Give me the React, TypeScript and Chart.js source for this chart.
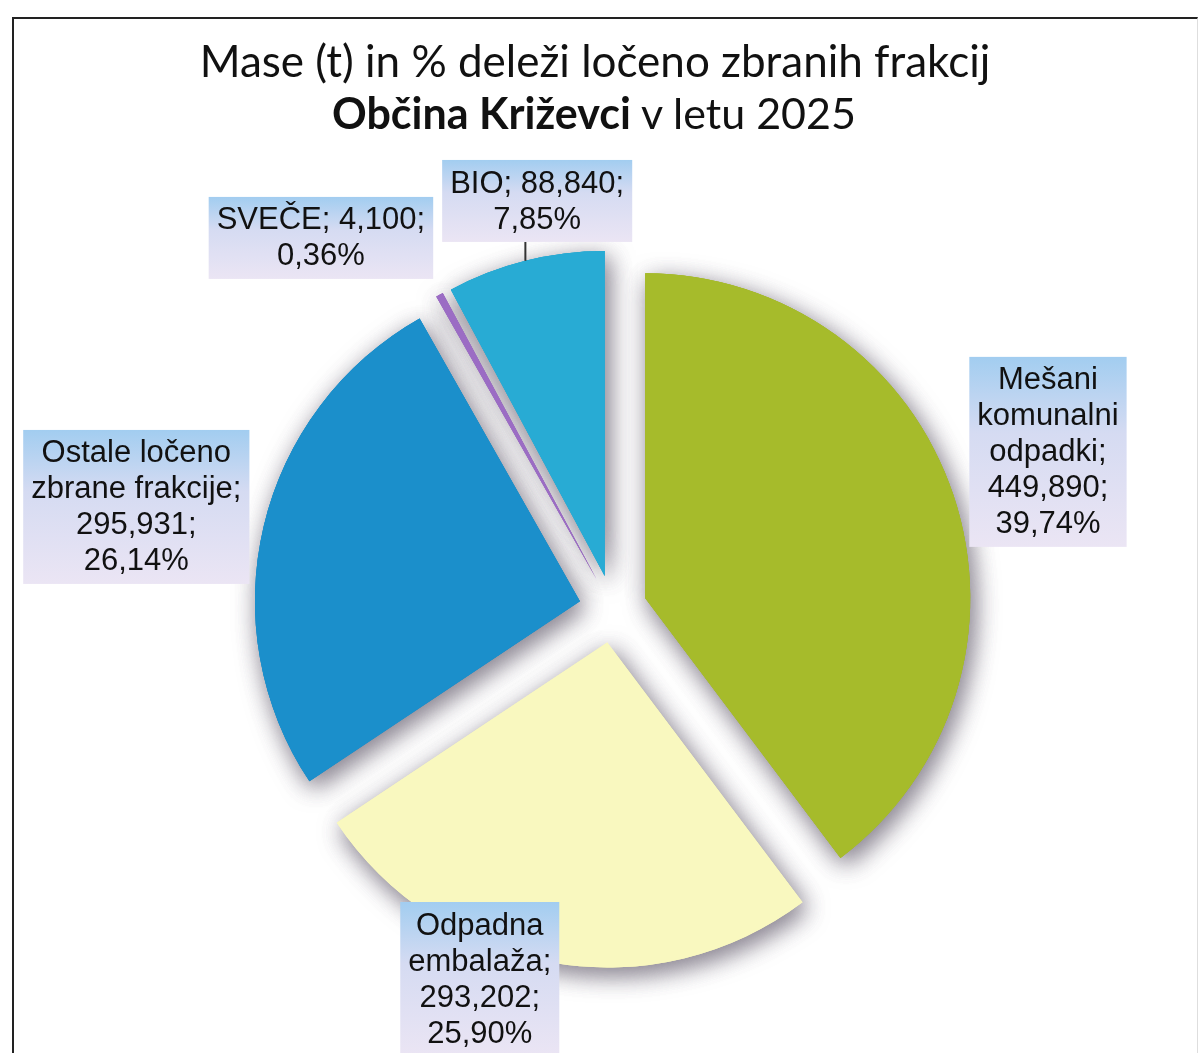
import React, { useEffect, useRef } from 'react';
import { Chart, registerables } from 'chart.js';

Chart.register(...registerables);

// ---- data ----
const CATEGORIES = [
  'Mešani komunalni odpadki',
  'Odpadna embalaža',
  'Ostale ločeno zbrane frakcije',
  'SVEČE',
  'BIO',
];
const MASSES = [449.89, 293.202, 295.931, 4.1, 88.84];
const COLORS = ['#a6bb2b', '#f9f8bf', '#1b8fcb', '#9b6cc4', '#28abd4'];

const TITLE_LINE_1 = 'Mase (t) in % deleži ločeno zbranih frakcij';
const TITLE_BOLD = 'Občina Križevci';
const TITLE_REST = ' v letu 2025';

// ---- label layout (polar position relative to the pie) ----
const LABEL_RADIUS = [1.423, 1.21, 1.5, 1.453, 1.277];
const LABEL_ANGLE_SHIFT = [-1.4, 10.1, -1.3, -9.3, 3.6];
const LABEL_WRAP = [165, 155, 222, 232, 200];
const LABEL_LEADER = [false, false, false, false, true];

const EXPLODE = 34;
const FONT = '31px Arial, "Liberation Sans", sans-serif';
const LINE_H = 36;

const fmt = (v: number, d: number) => v.toFixed(d).replace('.', ',');

function wrapText(ctx: CanvasRenderingContext2D, text: string, maxW: number): string[] {
  const words = text.split(' ');
  const lines: string[] = [];
  let cur = '';
  for (const w of words) {
    const t = cur ? cur + ' ' + w : w;
    if (cur && ctx.measureText(t).width > maxW) {
      lines.push(cur);
      cur = w;
    } else cur = t;
  }
  if (cur) lines.push(cur);
  return lines;
}

const explodedPie = {
  id: 'explodedPie',
  beforeDatasetDraw(chart: any, args: any) {
    const ctx: CanvasRenderingContext2D = chart.ctx;
    const arcs = args.meta.data;
    const drawAll = () => {
      arcs.forEach((a: any) => {
        const mid = (a.startAngle + a.endAngle) / 2;
        ctx.save();
        ctx.translate(Math.cos(mid) * EXPLODE, Math.sin(mid) * EXPLODE);
        a.draw(ctx);
        ctx.restore();
      });
    };
    // soft grey drop shadow (two passes for density), then clean slices on top
    for (let p = 0; p < 2; p++) {
      ctx.save();
      ctx.shadowColor = 'rgba(120, 113, 128, 0.62)';
      ctx.shadowBlur = 24;
      ctx.shadowOffsetX = 4;
      ctx.shadowOffsetY = 7;
      drawAll();
      ctx.restore();
    }
    drawAll();
    return false;
  },
  afterDatasetsDraw(chart: any) {
    const ctx: CanvasRenderingContext2D = chart.ctx;
    const meta = chart.getDatasetMeta(0);
    const data: number[] = chart.data.datasets[0].data;
    const total = data.reduce((s, v) => s + v, 0);
    ctx.save();
    ctx.font = FONT;
    ctx.textAlign = 'center';
    ctx.textBaseline = 'middle';
    meta.data.forEach((a: any, i: number) => {
      const mid = (a.startAngle + a.endAngle) / 2;
      const ang = mid + (LABEL_ANGLE_SHIFT[i] * Math.PI) / 180;
      const R = a.outerRadius;
      const px = a.x + Math.cos(ang) * LABEL_RADIUS[i] * R;
      const py = a.y + Math.sin(ang) * LABEL_RADIUS[i] * R;
      const text = `${chart.data.labels[i]}; ${fmt(data[i], 3)}; ${fmt((data[i] / total) * 100, 2)}%`;
      const lines = wrapText(ctx, text, LABEL_WRAP[i]);
      const w = Math.max(...lines.map((l) => ctx.measureText(l).width)) + 16;
      const h = lines.length * LINE_H + 10;
      const x0 = px - w / 2;
      const y0 = py - h / 2;
      if (LABEL_LEADER[i]) {
        const ax = a.x + Math.cos(mid) * (R + EXPLODE);
        const ay = a.y + Math.sin(mid) * (R + EXPLODE);
        ctx.strokeStyle = '#333';
        ctx.lineWidth = 2;
        ctx.beginPath();
        ctx.moveTo(ax, ay);
        ctx.lineTo(ax, y0 + h);
        ctx.stroke();
      }
      const g = ctx.createLinearGradient(0, y0, 0, y0 + h);
      g.addColorStop(0, '#a2cdf0');
      g.addColorStop(0.4, '#d5dbf2');
      g.addColorStop(1, '#ebe5f4');
      ctx.fillStyle = g;
      ctx.fillRect(x0, y0, w, h);
      ctx.fillStyle = '#111';
      lines.forEach((l, k) => {
        ctx.fillText(l, px, y0 + 5 + LINE_H * k + LINE_H / 2 + 1);
      });
    });
    ctx.restore();
  },
};

export default function App() {
  const ref = useRef<HTMLCanvasElement | null>(null);
  useEffect(() => {
    if (!ref.current) return;
    const chart = new Chart(ref.current, {
      type: 'pie',
      data: {
        labels: CATEGORIES,
        datasets: [
          {
            data: MASSES,
            backgroundColor: COLORS,
            borderWidth: 0,
            radius: 325,
          } as any,
        ],
      },
      options: {
        responsive: false,
        animation: false,
        layout: { padding: { left: 126, right: 100, top: 200, bottom: 35 } },
        plugins: {
          legend: { display: false },
          tooltip: { enabled: false },
        },
      },
      plugins: [explodedPie as any],
    });
    return () => chart.destroy();
  }, []);

  return (
    <div style={{ position: 'fixed', left: 0, top: 0, width: 1200, height: 1053, background: '#fff', overflow: 'hidden' }}>
      <div
        style={{
          position: 'absolute',
          left: 12,
          top: 17,
          width: 1183,
          height: 1100,
          borderTop: '2px solid #222',
          borderLeft: '2px solid #222',
          borderRight: '1px solid #dedede',
        }}
      />
      <canvas ref={ref} width={1200} height={1053} style={{ position: 'absolute', left: 0, top: 0 }} />
      <div
        style={{
          position: 'absolute',
          left: 0,
          width: 1190,
          top: 38,
          textAlign: 'center',
          fontFamily: 'Lato, sans-serif',
          fontSize: 44,
          lineHeight: '44px',
          color: '#111',
          whiteSpace: 'nowrap',
        }}
      >
        {TITLE_LINE_1}
      </div>
      <div
        style={{
          position: 'absolute',
          left: 0,
          width: 1188,
          top: 91,
          textAlign: 'center',
          fontFamily: 'Lato, sans-serif',
          fontSize: 43,
          lineHeight: '44px',
          color: '#111',
          whiteSpace: 'nowrap',
        }}
      >
        <b>{TITLE_BOLD}</b>
        {TITLE_REST}
      </div>
    </div>
  );
}
